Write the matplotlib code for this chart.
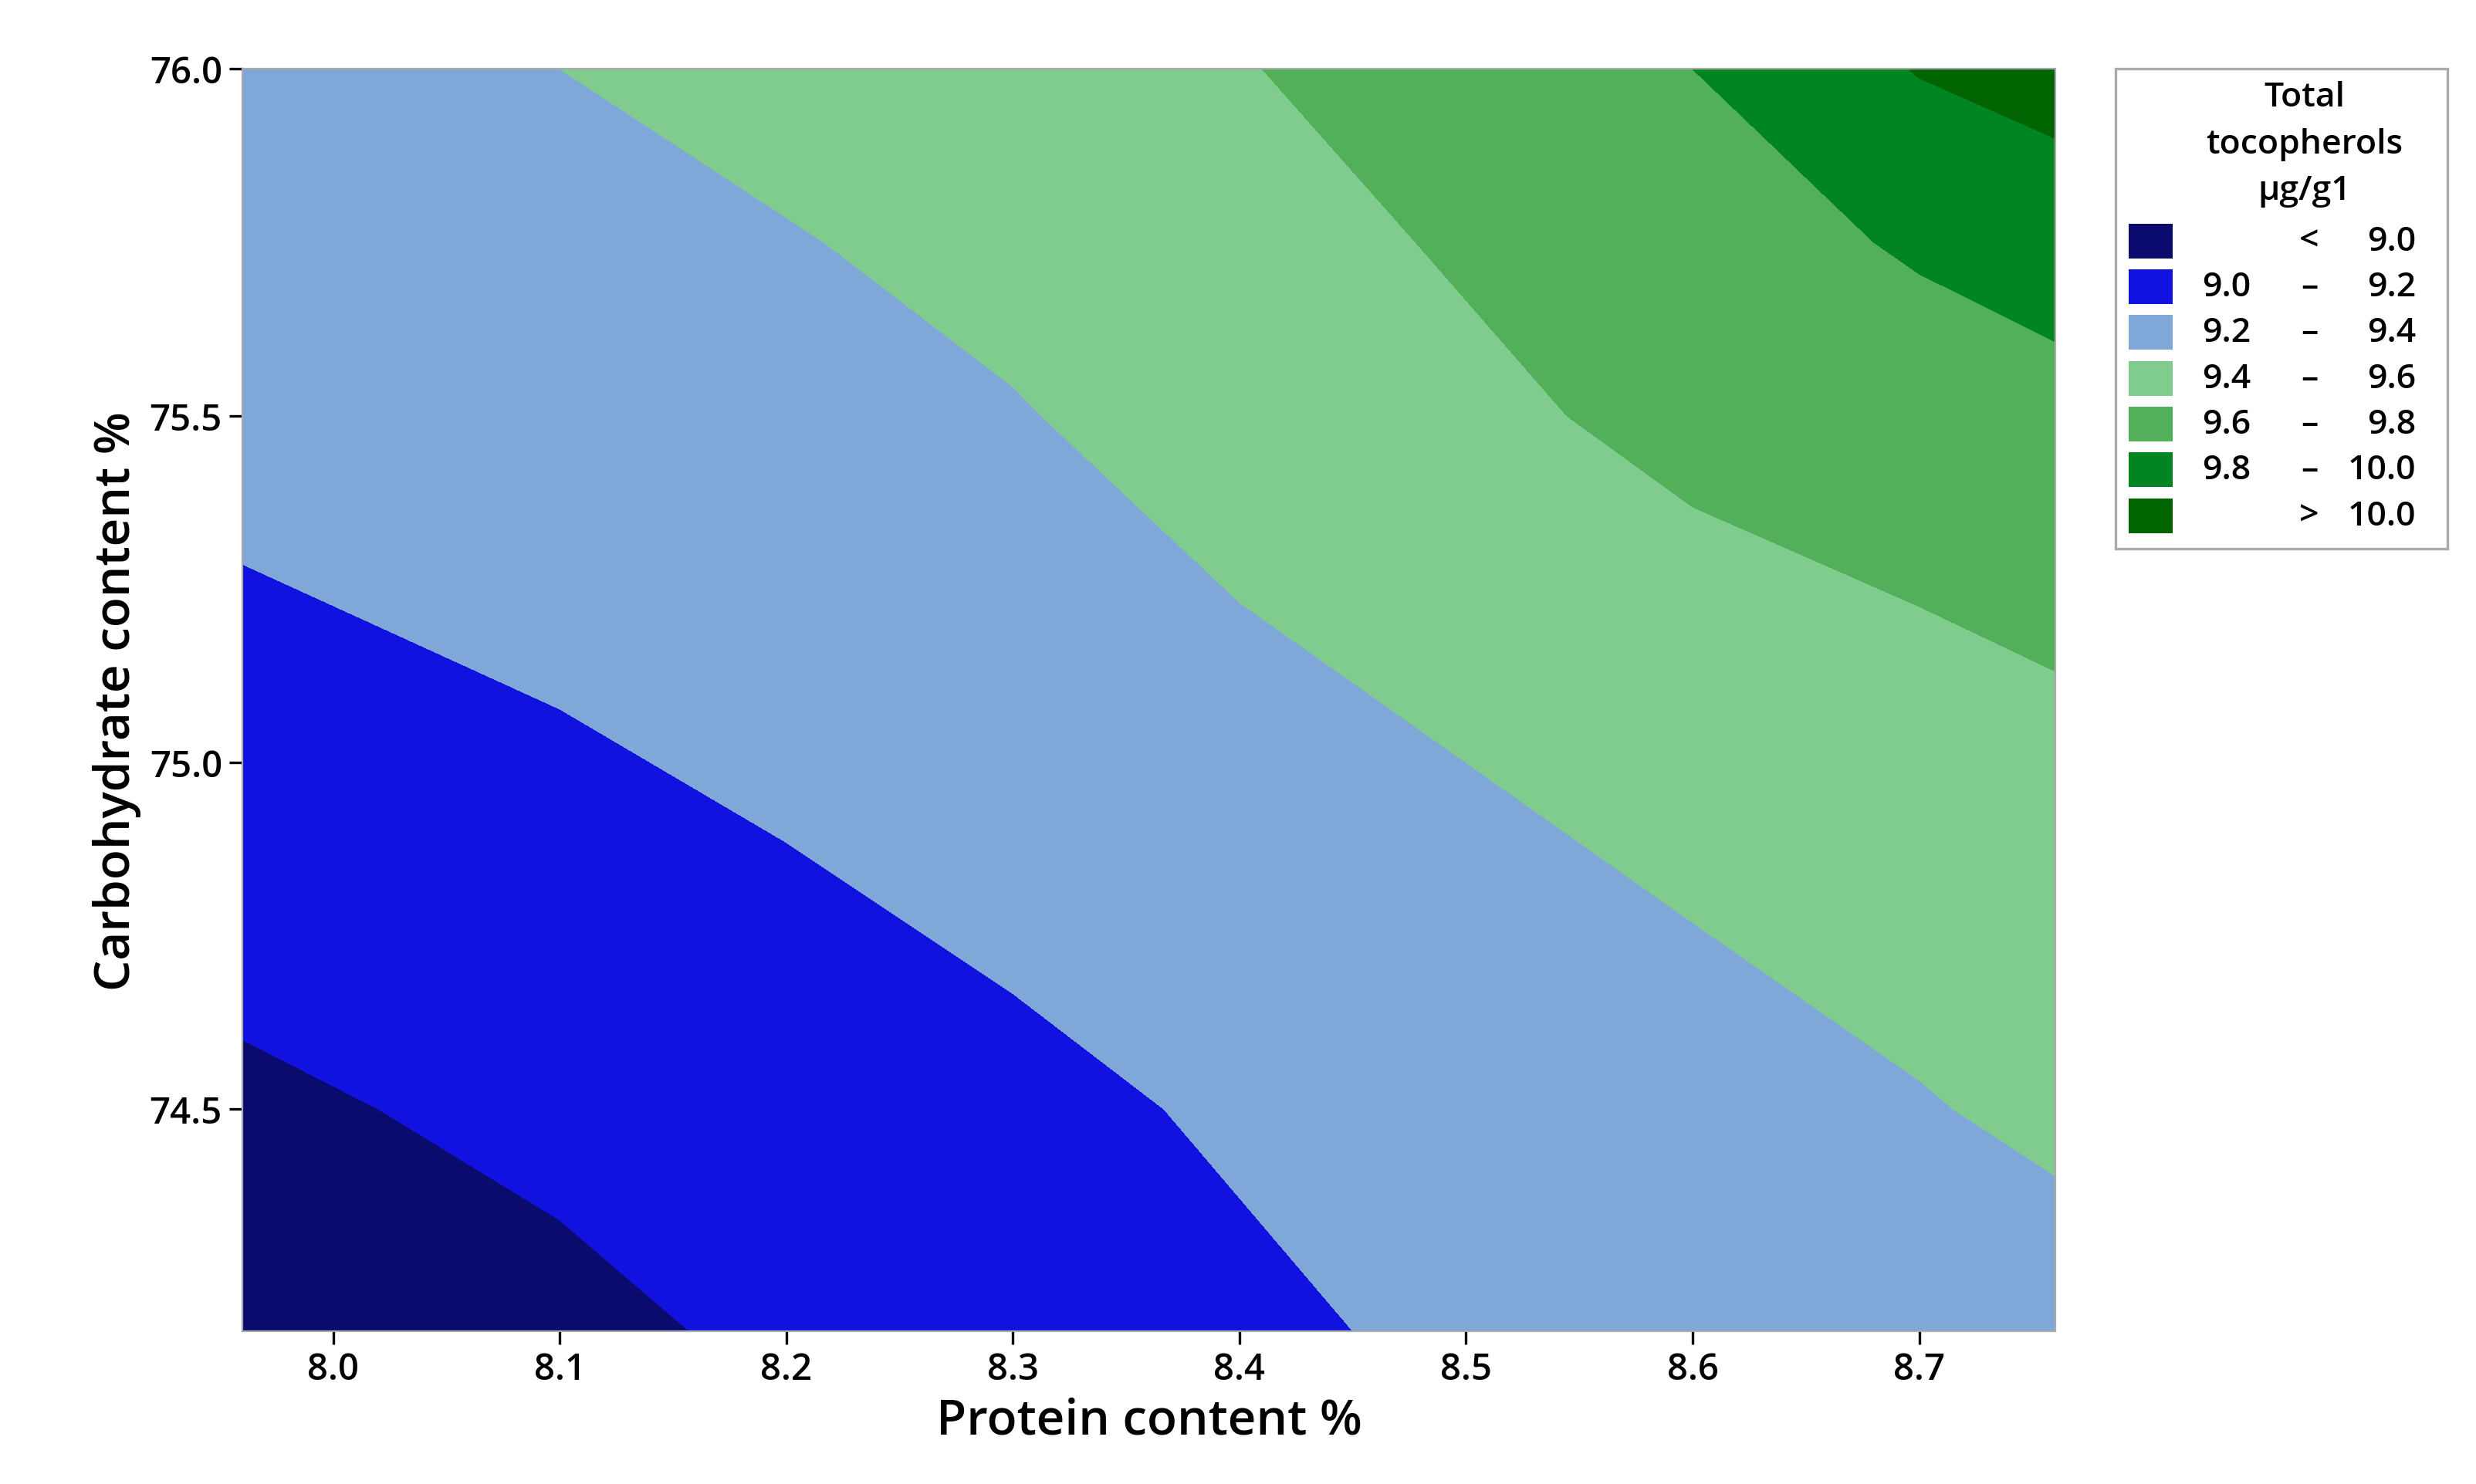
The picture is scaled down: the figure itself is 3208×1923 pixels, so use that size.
import numpy as np
import matplotlib.pyplot as plt
from matplotlib.patches import Rectangle

plt.rcParams['font.family'] = ['Open Sans', 'DejaVu Sans']

# grid values
protein = [7.96, 8.1, 8.2, 8.3, 8.4, 8.5, 8.6, 8.7, 8.76]
carbs = [74.18, 74.5, 75.0, 75.5, 75.75, 76.0]
toco = [
    [8.88, 8.96, 9.03, 9.10, 9.17, 9.23, 9.28, 9.31, 9.33],
    [8.97, 9.04, 9.10, 9.16, 9.22, 9.27, 9.33, 9.39, 9.43],
    [9.12, 9.18, 9.23, 9.28, 9.34, 9.40, 9.46, 9.51, 9.55],
    [9.26, 9.31, 9.35, 9.39, 9.47, 9.56, 9.65, 9.71, 9.74],
    [9.30, 9.35, 9.39, 9.45, 9.53, 9.62, 9.72, 9.82, 9.88],
    [9.33, 9.40, 9.46, 9.52, 9.59, 9.69, 9.80, 10.01, 10.08],
]
levels = [8.0, 9.0, 9.2, 9.4, 9.6, 9.8, 10.0, 11.0]
colors = ['#0b0b6e', '#1212e0', '#7fa7d8', '#80cc8e', '#52b05a', '#008522', '#006400']
legend_rows = [('', '<', '9.0'), ('9.0', '–', '9.2'), ('9.2', '–', '9.4'),
               ('9.4', '–', '9.6'), ('9.6', '–', '9.8'), ('9.8', '–', '10.0'),
               ('', '>', '10.0')]

fig = plt.figure(figsize=(16.04, 9.62), dpi=200)
ax = fig.add_axes([0.098, 0.103, 0.732, 0.850])
X, Y = np.meshgrid(protein, carbs)
ax.contourf(X, Y, np.array(toco), levels=levels, colors=colors)
ax.set_xlim(protein[0], protein[-1])
ax.set_ylim(carbs[0], carbs[-1])
ax.set_xticks([8.0, 8.1, 8.2, 8.3, 8.4, 8.5, 8.6, 8.7])
ax.set_yticks([74.5, 75.0, 75.5, 76.0])
ax.set_xticklabels([f'{v:.1f}' for v in ax.get_xticks()], fontsize=17, fontweight='semibold')
ax.set_yticklabels([f'{v:.1f}' for v in ax.get_yticks()], fontsize=17, fontweight='semibold')
ax.tick_params(length=6, width=1.2)
for s in ax.spines.values():
    s.set_color('#aaaaaa')
ax.set_xlabel('Protein content %', fontsize=23, fontweight='semibold')
ax.set_ylabel('Carbohydrate content %', fontsize=23, fontweight='semibold')

# legend box
lx0, lx1 = 1333 / 1560, 1542 / 1560
ly0, ly1 = 1 - 348 / 940, 1 - 44 / 940
fig.patches.append(Rectangle((lx0, ly0), lx1 - lx0, ly1 - ly0, transform=fig.transFigure,
                             facecolor='white', edgecolor='#aaaaaa', lw=1.2))
for i, t in enumerate(['Total', 'tocopherols', 'µg/g1']):
    fig.text(1452 / 1560, 1 - (62 + 29.5 * i) / 940, t, ha='center', va='center',
             fontsize=16, fontweight='semibold')
for i, (lo, sep, hi) in enumerate(legend_rows):
    yc = 1 - (153 + 29 * i) / 940
    fig.patches.append(Rectangle((1341 / 1560, yc - 11 / 940), 28 / 1560, 22 / 940,
                                 transform=fig.transFigure, facecolor=colors[i], edgecolor='none'))
    fig.text(1418 / 1560, yc, lo, ha='right', va='center', fontsize=16, fontweight='semibold')
    fig.text(1455 / 1560, yc, sep, ha='center', va='center', fontsize=16, fontweight='semibold')
    fig.text(1522 / 1560, yc, hi, ha='right', va='center', fontsize=16, fontweight='semibold')

fig.savefig('out.png', dpi=200)
